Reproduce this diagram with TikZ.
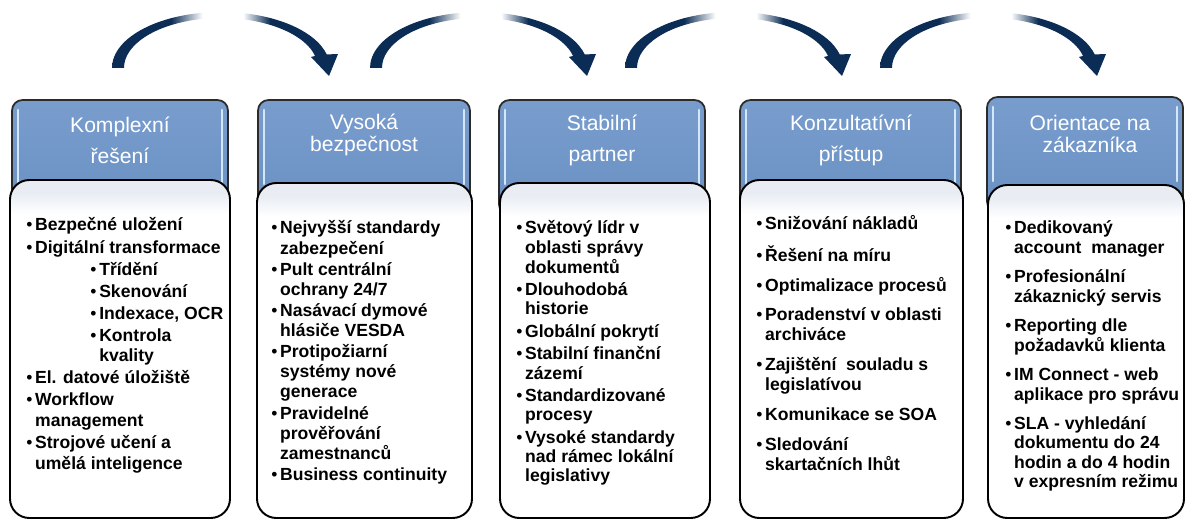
\documentclass[tikz,border=0pt]{standalone}
\usepackage{fontspec}
\setmainfont{Liberation Sans}
\usetikzlibrary{positioning}
\definecolor{navy}{HTML}{0B2C55}
\definecolor{headblue}{HTML}{6A90C3}
\definecolor{headtop}{HTML}{789DCD}
\definecolor{headglow}{HTML}{D4E7F9}
\definecolor{band}{HTML}{E9EDF3}
\definecolor{rim}{HTML}{2B2B2B}
\pgfdeclarehorizontalshading{arcfade}{100bp}{color(0bp)=(navy); color(38bp)=(navy); color(45bp)=(white); color(54bp)=(white); color(60bp)=(navy); color(100bp)=(navy)}
\pgfdeclareverticalshading{bodyband}{100bp}{color(0bp)=(white); color(70bp)=(white); color(73bp)=(band); color(100bp)=(band)}
\newcommand{\bul}{{\mdseries\textbullet}}
\newcommand{\subit}{\hspace*{31.5pt}\bul\hspace{1.5pt}}
\newcommand{\subcont}{\hspace*{31.5pt}\phantom{\bul}\hspace{1.5pt}}
\tikzset{
  headbox/.style={draw=rim, line width=1pt, rounded corners=6pt, top color=headtop, bottom color=headblue},
  glow/.style={draw=headglow, line width=1.6pt, line cap=round},
  bodybox/.style={draw=black, line width=1.1pt, rounded corners=11pt, shading=bodyband},
  headtxt/.style={text=white, align=center, inner sep=0pt, font=\fontsize{12}{#1}\selectfont},
  listtxt/.style={anchor=base west, inner sep=0pt, font=\bfseries\fontsize{10}{#1}\selectfont},
}

\begin{document}
\begin{tikzpicture}[x=0.02cm, y=-0.02cm]
\useasboundingbox (0,0) rectangle (1186,520);

% curved arrows over the columns
\foreach \cx in {221,479,734,989}{
  \begin{scope}[shift={(\cx,68)}, yscale=-1]
    \shade[shading=arcfade] (-109,0) arc[start angle=180, end angle=14, x radius=109, y radius=56]
      -- (117,14) -- (108,-8) -- (90,11) -- (94.1,12.1)
      arc[start angle=14, end angle=180, x radius=97, y radius=50] -- cycle;
  \end{scope}
}

% header tabs
\foreach \l/\r/\t in {12/228/100, 258/470/100, 499/705/100, 740/961/100, 987/1183/97}{
  \draw[headbox] (\l,\t) rectangle (\r,\t+115);
  \draw[glow] (\l+6,\t+10) -- (\l+6,\t+84);
  \draw[glow] (\r-6,\t+10) -- (\r-6,\t+84);
}

% white boxes
\foreach \l/\r/\t in {10/230/180, 257/472/183, 500/710/183, 740/963/180, 988/1184/185}
  \draw[bodybox] (\l,\t) rectangle (\r,518);

\node[headtxt=17.6pt] (head1) at (120,140) {Komplexní\\řešení};
\node[headtxt=12.5pt] (head2) at (364,135) {Vysoká\\bezpečnost};
\node[headtxt=17.6pt] (head3) at (602,140) {Stabilní\\partner};
\node[headtxt=17.6pt] (head4) at (851,140) {Konzultatívní\\přístup};
\node[headtxt=13pt] (head5) at (1090,134) {Orientace na\\zákazníka};

\node[listtxt=11.7pt] (list1) at (26,231) {\begin{tabular}[t]{@{}l@{\hspace{1.5pt}}l@{}}
\bul & Bezpečné uložení\\[0.85pt]
\bul & Digitální transformace\\[0.85pt]
 & \subit Třídění\\[0.85pt]
 & \subit Skenování\\[0.85pt]
 & \subit Indexace, OCR\\[0.85pt]
 & \subit Kontrola\\
 & \subcont kvality\\[0.85pt]
\bul & El. datové úložiště\\[0.85pt]
\bul & Workflow\\
 & management\\[0.85pt]
\bul & Strojové učení a\\
 & umělá inteligence
\end{tabular}};

\node[listtxt=11.4pt] (list2) at (271,234) {\begin{tabular}[t]{@{}l@{\hspace{1.5pt}}l@{}}
\bul & Nejvyšší standardy\\
 & zabezpečení\\[0.7pt]
\bul & Pult centrální\\
 & ochrany 24/7\\[0.7pt]
\bul & Nasávací dymové\\
 & hlásiče VESDA\\[0.7pt]
\bul & Protipožiarní\\
 & systémy nové\\
 & generace\\[0.7pt]
\bul & Pravidelné\\
 & prověřování\\
 & zamestnanců\\[0.7pt]
\bul & Business continuity
\end{tabular}};

\node[listtxt=11pt] (list3) at (516,234) {\begin{tabular}[t]{@{}l@{\hspace{1.5pt}}l@{}}
\bul & Světový lídr v\\
 & oblasti správy\\
 & dokumentů\\[1.75pt]
\bul & Dlouhodobá\\
 & historie\\[1.75pt]
\bul & Globální pokrytí\\[1.75pt]
\bul & Stabilní finanční\\
 & zázemí\\[1.75pt]
\bul & Standardizované\\
 & procesy\\[1.75pt]
\bul & Vysoké standardy\\
 & nad rámec lokální\\
 & legislativy
\end{tabular}};

\node[listtxt=11.4pt] (list4) at (756,230) {\begin{tabular}[t]{@{}l@{\hspace{1.5pt}}l@{}}
\bul & Snižování nákladů\\[5.5pt]
\bul & Řešení na míru\\[5.5pt]
\bul & Optimalizace procesů\\[5.5pt]
\bul & Poradenství v oblasti\\
 & archiváce\\[5.5pt]
\bul & Zajištění\ \ souladu s\\
 & legislatívou\\[5.5pt]
\bul & Komunikace se SOA\\[5.5pt]
\bul & Sledování\\
 & skartačních lhůt
\end{tabular}};

\node[listtxt=11pt] (list5) at (1005,234) {\begin{tabular}[t]{@{}l@{\hspace{1.5pt}}l@{}}
\bul & Dedikovaný\\
 & account\ \ manager\\[5.75pt]
\bul & Profesionální\\
 & zákaznický servis\\[5.75pt]
\bul & Reporting dle\\
 & požadavků klienta\\[5.75pt]
\bul & IM Connect - web\\
 & aplikace pro správu\\[5.75pt]
\bul & SLA - vyhledání\\
 & dokumentu do 24\\
 & hodin a do 4 hodin\\
 & v expresním režimu
\end{tabular}};
\end{tikzpicture}
\end{document}
